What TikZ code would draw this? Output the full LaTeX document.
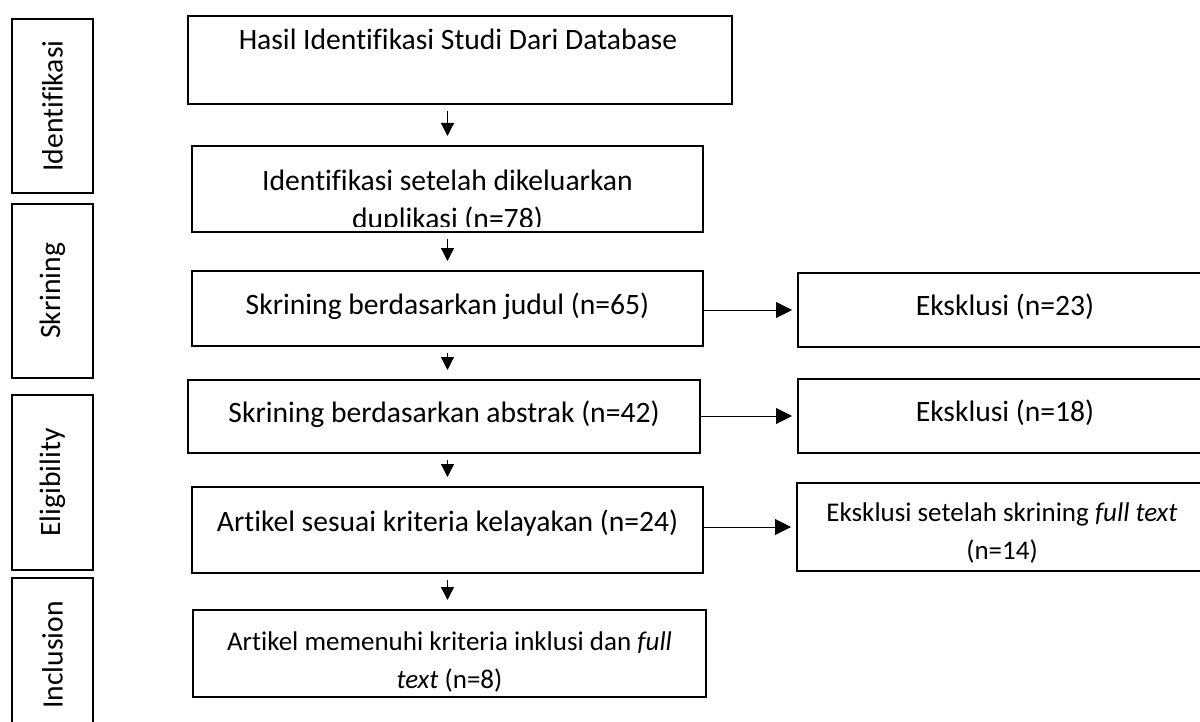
\documentclass[tikz,border=0pt]{standalone}
\usepackage{fontspec}
\setmainfont[Ligatures=NoCommon]{Carlito}
\usetikzlibrary{arrows.meta,positioning,calc}
\tikzset{
  box/.style={draw=black,line width=1pt,inner sep=0pt},
  stagebox/.style={box,rotate=90,minimum height=40.5pt,font=\fontsize{14.8}{19}\selectfont},
  txt/.style={inner sep=0pt,align=center,anchor=base,font=\fontsize{14.8}{19}\selectfont},
  smalltxt/.style={txt,font=\fontsize{13.5}{19}\selectfont},
  arr/.style={-{Triangle[length=6.5pt,width=6.5pt]},line width=0.6pt,shorten <=3pt,shorten >=4.5pt},
  sidearr/.style={-{Triangle[length=8pt,width=8pt]},line width=0.5pt,shorten <=-1pt,shorten >=2.5pt},
}
\begin{document}
\begin{tikzpicture}[x=0.5pt,y=-0.5pt]
  \useasboundingbox (0,0) rectangle (1200,722);
  \clip (0,0) rectangle (1200,722);
  % stages
  \node[stagebox,minimum width=87pt] (sIdent) at (52.5,106) {Identifikasi};
  \node[stagebox,minimum width=87pt] (sSkrin) at (52.5,291) {Skrining};
  \node[stagebox,minimum width=87.5pt] (sElig) at (52.5,482.5) {Eligibility};
  \node[stagebox,minimum width=77pt] (sIncl) at (52.5,655) {Inclusion};
  % main column
  \node[box,minimum width=272pt,minimum height=44pt] (b1) at (460,60) {};
  \node[box,minimum width=255.5pt,minimum height=43pt] (b2) at (447.5,189) {};
  \node[box,minimum width=255.5pt,minimum height=37.5pt] (b3) at (447.5,308.5) {};
  \node[box,minimum width=256pt,minimum height=36.5pt] (b4) at (444,416.5) {};
  \node[box,minimum width=255.5pt,minimum height=43pt] (b5) at (447.5,530) {};
  \node[box,minimum width=256.5pt,minimum height=43.5pt] (b6) at (449.5,653.5) {};
  \node[txt] (t1) at (458,50) {Hasil Identifikasi Studi Dari Database};
  \begin{scope}
    \clip (192,148) rectangle (703,226);
    \node[txt] (t2) at (447.5,228) {Identifikasi setelah dikeluarkan\\duplikasi (n=78)};
  \end{scope}
  \node[txt] (t3) at (447.5,314) {Skrining berdasarkan judul (n=65)};
  \node[txt] (t4) at (444,422) {Skrining berdasarkan abstrak (n=42)};
  \node[txt] (t5) at (447.5,531) {Artikel sesuai kriteria kelayakan (n=24)};
  \node[smalltxt] (t6) at (449.5,688) {Artikel memenuhi kriteria inklusi dan \textit{full}\\\textit{text} (n=8)};
  % exclusions
  \node[box,minimum width=207pt,minimum height=37pt] (e1) at (1005,310) {};
  \node[box,minimum width=207pt,minimum height=37pt] (e2) at (1005,416) {};
  \node[box,minimum width=207.5pt,minimum height=44pt] (e3) at (1004.5,527) {};
  \node[txt] (te1) at (1005,315) {Eksklusi (n=23)};
  \node[txt] (te2) at (1005,421) {Eksklusi (n=18)};
  \node[smalltxt] (te3) at (1002,559) {Eksklusi setelah skrining \textit{full text}\\(n=14)};
  % arrows
  \draw[arr] (b1.south -| b2.north) -- (b2.north);
  \draw[arr] (b2.south) -- (b3.north);
  \draw[arr] (b3.south) -- (b3.south |- b4.north);
  \draw[arr] (b4.south -| b5.north) -- (b5.north);
  \draw[arr] (b5.south) -- (b5.south |- b6.north);
  \draw[sidearr] (b3.east |- e1.west) -- (e1.west);
  \draw[sidearr] (b4.east |- e2.west) -- (e2.west);
  \draw[sidearr] (b5.east |- e3.west) -- (e3.west);
\end{tikzpicture}
\end{document}
